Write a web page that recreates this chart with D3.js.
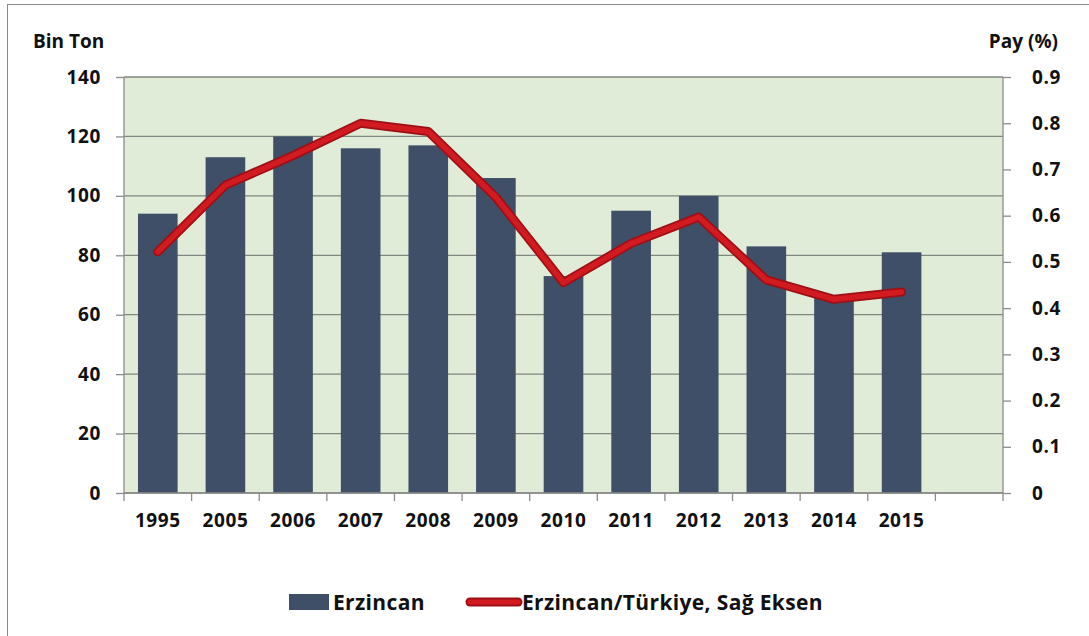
<!DOCTYPE html>
<meta charset="utf-8">
<style>
body { margin: 0; background: #fff; }
text { font-family: "Open Sans", sans-serif; font-weight: 700; fill: #111; }
</style>
<script src="https://d3js.org/d3.v7.min.js"></script>
<body>
<script>

var years = ["1995", "2005", "2006", "2007", "2008", "2009", "2010", "2011", "2012", "2013", "2014", "2015"];
var tonnes = [94, 113, 120, 116, 117, 106, 73, 95, 100, 83, 66, 81];
var share = [0.522, 0.666, 0.73, 0.80, 0.782, 0.64, 0.455, 0.54, 0.597, 0.461, 0.419, 0.435];
var leftTicks = [0, 20, 40, 60, 80, 100, 120, 140];
var rightTicks = [0, 0.1, 0.2, 0.3, 0.4, 0.5, 0.6, 0.7, 0.8, 0.9];

var width = 1089,
    height = 636;

var svg = d3.select("body").append("svg")
    .attr("width", width)
    .attr("height", height);

// outer frame
svg.append("rect")
    .attr("x", 7.5).attr("y", 4.5)
    .attr("width", width).attr("height", height)
    .attr("fill", "none")
    .attr("stroke", "#8a8a8a");

var plotLeft = 124, plotRight = 1003, plotTop = 77, plotBottom = 493;

// one empty slot at the end, like the original
var x = d3.scaleBand()
    .domain(years.concat(["_"]))
    .range([plotLeft, plotRight])
    .paddingInner(0.414)
    .paddingOuter(0.207);

var y = d3.scaleLinear().domain([0, 140]).range([plotBottom, plotTop]);
var y2 = d3.scaleLinear().domain([0, 0.9]).range([plotBottom, plotTop]);

svg.append("rect")
    .attr("x", plotLeft).attr("y", plotTop)
    .attr("width", plotRight - plotLeft).attr("height", plotBottom - plotTop)
    .attr("fill", "#e1ecd8");

svg.append("g")
  .selectAll("line")
  .data(leftTicks)
  .enter().append("line")
    .attr("x1", plotLeft).attr("x2", plotRight)
    .attr("y1", function(d) { return y(d); })
    .attr("y2", function(d) { return y(d); })
    .attr("stroke", "#7f877f")
    .attr("stroke-width", 1.3);

svg.append("g")
  .selectAll("rect")
  .data(tonnes)
  .enter().append("rect")
    .attr("x", function(d, i) { return x(years[i]); })
    .attr("y", function(d) { return y(d); })
    .attr("width", x.bandwidth())
    .attr("height", function(d) { return plotBottom - y(d); })
    .attr("fill", "#3f4f68");

// axes
var axisColor = "#8c8c8c";

var gl = svg.append("g")
    .attr("transform", "translate(" + plotLeft + ",0)")
    .call(d3.axisLeft(y).tickValues(leftTicks).tickSize(8).tickPadding(15));

var gr = svg.append("g")
    .attr("transform", "translate(" + plotRight + ",0)")
    .call(d3.axisRight(y2).tickValues(rightTicks).tickSize(8).tickPadding(21)
      .tickFormat(function(d) { return d === 0 ? "0" : d.toFixed(1); }));

var gx = svg.append("g")
    .attr("transform", "translate(0," + plotBottom + ")")
    .call(d3.axisBottom(x).tickValues(years).tickSize(0).tickPadding(21));

[gl, gr, gx].forEach(function(g) {
  g.attr("font-family", null).attr("font-size", null);
  g.selectAll("path.domain").attr("stroke", axisColor).attr("stroke-width", 1.3);
  g.selectAll(".tick line").attr("stroke", axisColor).attr("stroke-width", 1.3);
  g.selectAll(".tick text").attr("font-size", 19).attr("fill", "#111")
      .attr("letter-spacing", 0.6);
});
gx.selectAll("path.domain").attr("d", "M" + plotLeft + ",0H" + plotRight);
gl.selectAll("path.domain").attr("d", "M0," + plotTop + "V" + plotBottom);
gr.selectAll("path.domain").attr("d", "M0," + plotTop + "V" + plotBottom);

// category boundary ticks
gx.append("g")
  .selectAll("line")
  .data(d3.range(x.domain().length + 1))
  .enter().append("line")
    .attr("x1", function(i) { return plotLeft + i * x.step(); })
    .attr("x2", function(i) { return plotLeft + i * x.step(); })
    .attr("y1", 0).attr("y2", 8)
    .attr("stroke", axisColor)
    .attr("stroke-width", 1.3);

// share line
var line = d3.line()
    .x(function(d, i) { return x(years[i]) + x.bandwidth() / 2; })
    .y(function(d) { return y2(d); });

svg.append("path")
    .datum(share)
    .attr("d", line)
    .attr("fill", "none")
    .attr("stroke", "#9e1016")
    .attr("stroke-width", 9)
    .attr("stroke-linejoin", "round")
    .attr("stroke-linecap", "round");

svg.append("path")
    .datum(share)
    .attr("d", line)
    .attr("fill", "none")
    .attr("stroke", "#d21a21")
    .attr("stroke-width", 5.5)
    .attr("stroke-linejoin", "round")
    .attr("stroke-linecap", "round");

// axis titles
svg.append("text")
    .attr("x", 33).attr("y", 48)
    .attr("font-size", 19)
    .text("Bin Ton");

svg.append("text")
    .attr("x", 1058).attr("y", 48)
    .attr("text-anchor", "end")
    .attr("font-size", 19)
    .text("Pay (%)");

// legend
var legend = svg.append("g");

legend.append("rect")
    .attr("x", 289).attr("y", 594)
    .attr("width", 40).attr("height", 16)
    .attr("fill", "#3f4f68");

legend.append("text")
    .attr("x", 333).attr("y", 610)
    .attr("font-size", 21)
    .attr("letter-spacing", 0.35)
    .text("Erzincan");

legend.append("line")
    .attr("x1", 470).attr("x2", 518)
    .attr("y1", 602).attr("y2", 602)
    .attr("stroke", "#9e1016")
    .attr("stroke-width", 9)
    .attr("stroke-linecap", "round");

legend.append("line")
    .attr("x1", 470).attr("x2", 518)
    .attr("y1", 602).attr("y2", 602)
    .attr("stroke", "#d21a21")
    .attr("stroke-width", 5)
    .attr("stroke-linecap", "round");

legend.append("text")
    .attr("x", 522).attr("y", 610)
    .attr("font-size", 21)
    .attr("letter-spacing", 0.35)
    .text("Erzincan/Türkiye, Sağ Eksen");

</script>
